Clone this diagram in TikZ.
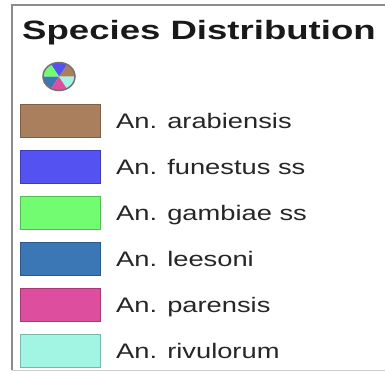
\documentclass[tikz,border=0pt]{standalone}
\usepackage{fontspec}
\newfontfamily\titlefont[FakeStretch=1.38]{Liberation Sans}
\newfontfamily\labelfont[FakeStretch=1.3]{Liberation Sans}
\definecolor{cArab}{HTML}{A97F5E}
\definecolor{cFun}{HTML}{5452F0}
\definecolor{cGam}{HTML}{72FC72}
\definecolor{cLee}{HTML}{3A77B4}
\definecolor{cPar}{HTML}{DE4E9E}
\definecolor{cRiv}{HTML}{A2F5E2}
\definecolor{frameGray}{HTML}{8C8C8C}
\begin{document}
\begin{tikzpicture}[x=1pt,y=-1pt,
  swatch/.style={draw=#1!75!black, fill=#1, line width=1pt, minimum width=80pt, minimum height=33pt, inner sep=0pt, anchor=west},
  lbl/.style={font=\labelfont\fontsize{21}{24}\selectfont, text=black!85, anchor=base west, inner sep=0pt},
  ttl/.style={font=\titlefont\bfseries\fontsize{26.5}{30}\selectfont, text=black!90, anchor=base west, inner sep=0pt}]
\useasboundingbox (0,0) rectangle (385,373);
\fill[white] (0,0) rectangle (385,373);
% frame
\draw[frameGray, line width=2.5pt] (12,370) -- (12,5) -- (385,5);
\draw[black!20, line width=1pt] (12,370) -- (385,370);
% title
\node[ttl] (title) at (22,39) {Species Distribution};
% pie icon (scope y axis points up)
\begin{scope}[shift={(59,76.5)}, x={(16pt,0pt)}, y={(0pt,14pt)}]
  \fill[cArab] (0,0) -- (0:1) arc[start angle=0, end angle=60, radius=1] -- cycle;
  \fill[cFun] (0,0) -- (60:1) arc[start angle=60, end angle=120, radius=1] -- cycle;
  \fill[cGam] (0,0) -- (120:1) arc[start angle=120, end angle=180, radius=1] -- cycle;
  \fill[cLee] (0,0) -- (180:1) arc[start angle=180, end angle=240, radius=1] -- cycle;
  \fill[cPar] (0,0) -- (240:1) arc[start angle=240, end angle=300, radius=1] -- cycle;
  \fill[cRiv] (0,0) -- (300:1) arc[start angle=300, end angle=360, radius=1] -- cycle;
  \draw[black!55, line width=1.5pt] (0,0) circle[radius=1];
\end{scope}
% legend rows
\node[swatch=cArab] (s1) at (20,120.5) {};
\node[swatch=cFun]  (s2) at (20,166.5) {};
\node[swatch=cGam]  (s3) at (20,212.5) {};
\node[swatch=cLee]  (s4) at (20,258.5) {};
\node[swatch=cPar]  (s5) at (20,304.5) {};
\node[swatch=cRiv]  (s6) at (20,350.5) {};
\node[lbl] (l1) at (116,128) {An. arabiensis};
\node[lbl] (l2) at (116,174) {An. funestus ss};
\node[lbl] (l3) at (116,220) {An. gambiae ss};
\node[lbl] (l4) at (116,266) {An. leesoni};
\node[lbl] (l5) at (116,312) {An. parensis};
\node[lbl] (l6) at (116,358) {An. rivulorum};
\end{tikzpicture}
\end{document}
